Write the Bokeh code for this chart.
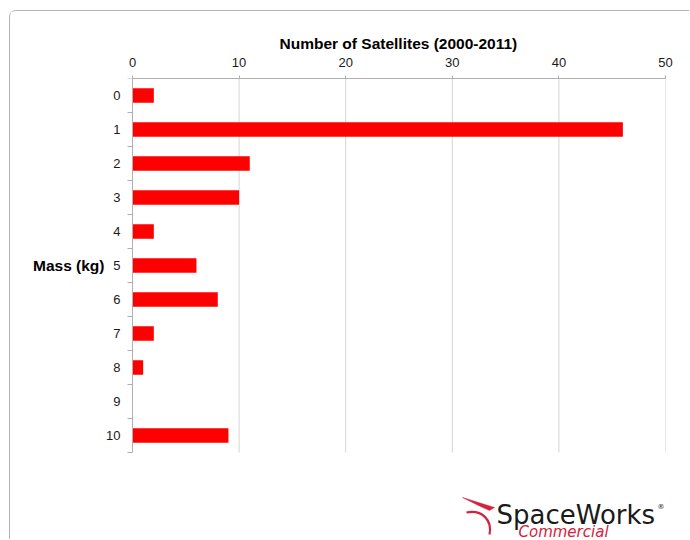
from bokeh.plotting import figure
from bokeh.models import Range1d, FixedTicker
from bokeh.core.properties import value
from bokeh.embed import file_html
from bokeh.resources import INLINE

# ---- data ----
mass_categories = ["0", "1", "2", "3", "4", "5", "6", "7", "8", "9", "10"]
satellite_counts = [2, 46, 11, 10, 2, 6, 8, 2, 1, 0, 9]
x_ticks = [0, 10, 20, 30, 40, 50]
x_title = "Number of Satellites (2000-2011)"
y_title = "Mass (kg)"

# ---- geometry (screen, inside figure) ----
FIG_W, FIG_H = 680, 529
OX, OY = 10, 11            # figure content origin in the window
AX_L, FR_T, FR_R = 122, 67, 655
ROW_PX = 34.0
n = len(mass_categories)
sx = (FR_R - AX_L) / 50.0
x_start = -AX_L / sx
y_top = -0.5
y_bottom = y_top + (FIG_H - FR_T) / ROW_PX

p = figure(width=FIG_W, height=FIG_H, output_backend="svg", toolbar_location=None,
           x_range=Range1d(x_start, 50), y_range=Range1d(y_bottom, y_top),
           x_axis_location="above", title=x_title,
           min_border_left=0, min_border_right=FIG_W - FR_R,
           min_border_top=FR_T, min_border_bottom=0)
p.margin = (10, 0, 0, 9)
p.styles = {"border-top": "1px solid #b4b4b4", "border-left": "1px solid #b4b4b4",
            "border-top-left-radius": "7px"}
p.outline_line_color = None
p.background_fill_color = "white"
p.border_fill_color = "white"
p.xgrid.visible = False
p.ygrid.visible = False

# top title, placed over the value axis (0..50)
p.title.align = "left"
p.title.offset = 269
p.title.text_font = "Liberation Sans"
p.title.text_font_style = "bold"
p.title.text_font_size = "15.5px"
p.title.text_color = "#000000"
p.title.standoff = 5

# window px -> data helpers for decoration
def dx(px):
    return (px - OX - AX_L) / sx
def dy(py):
    return (py - OY - FR_T) / ROW_PX + y_top

# grid lines (vertical), limited to the category band
gx = [t for t in x_ticks if t > 0]
p.segment(x0=gx, y0=[-0.5] * len(gx), x1=gx, y1=[n - 0.5] * len(gx),
          line_color="#d4d4d4", line_width=1)

# bars
ys = list(range(n))
p.hbar(y=ys, right=satellite_counts, left=0, height=0.42,
       fill_color="#ff0000", line_color=None)

# top axis
xa = p.xaxis[0]
xa.bounds = (0, 50)
xa.ticker = FixedTicker(ticks=x_ticks)
xa.major_label_text_font = "Liberation Sans"
xa.major_label_text_font_size = "13px"
xa.major_label_text_color = "#1a1a1a"
xa.major_label_standoff = 9
xa.axis_line_color = "#b0b0b0"
xa.major_tick_line_color = "#b0b0b0"
xa.major_tick_out = 3
xa.major_tick_in = 0
xa.minor_tick_line_color = None

# left axis, fixed at x = 0 inside the frame
ya = p.yaxis[0]
ya.fixed_location = 0
ya.bounds = (-0.5, n - 0.5)
ya.ticker = FixedTicker(ticks=ys, minor_ticks=[i - 0.5 for i in range(n + 1)])
ya.major_label_overrides = {i: c for i, c in enumerate(mass_categories)}
ya.major_label_text_font = "Liberation Sans"
ya.major_label_text_font_size = "13px"
ya.major_label_text_color = "#1a1a1a"
ya.major_label_standoff = 7
ya.axis_line_color = "#b0b0b0"
ya.major_tick_line_color = None
ya.major_tick_out = 0
ya.major_tick_in = 0
ya.minor_tick_line_color = "#b0b0b0"
ya.minor_tick_out = 5
ya.minor_tick_in = 0

p.text(x=[dx(104)], y=[5], text=[y_title], text_align="right", text_baseline="middle",
       text_font=value("Liberation Sans"), text_font_style="bold",
       text_font_size="15.5px", text_color="#000000")

# logo (decoration)
red = "#d4213d"
p.patch(x=[dx(462), dx(494), dx(489), dx(478)], y=[dy(497), dy(507), dy(510), dy(505)],
        fill_color=red, line_color=red, line_width=0.5)
p.bezier(x0=[dx(466)], y0=[dy(512)], x1=[dx(489)], y1=[dy(534)],
         cx0=[dx(482)], cy0=[dy(509)], cx1=[dx(492)], cy1=[dy(520)],
         line_color=red, line_width=2.2)
p.text(x=[dx(496)], y=[dy(514)], text=["SpaceWorks"], text_font=value("DejaVu Sans"),
       text_font_size="26px", text_color="#1a1a1a", text_baseline="alphabetic")
p.text(x=[dx(657)], y=[dy(506)], text=["®"], text_font=value("DejaVu Sans"),
       text_font_size="7px", text_color="#1a1a1a", text_baseline="alphabetic")
p.text(x=[dx(518)], y=[dy(531)], text=["Commercial"], text_font=value("DejaVu Sans"),
       text_font_style="italic", text_font_size="15px", text_color=red,
       text_baseline="alphabetic")

open("out.html", "w").write(file_html(p, INLINE))
